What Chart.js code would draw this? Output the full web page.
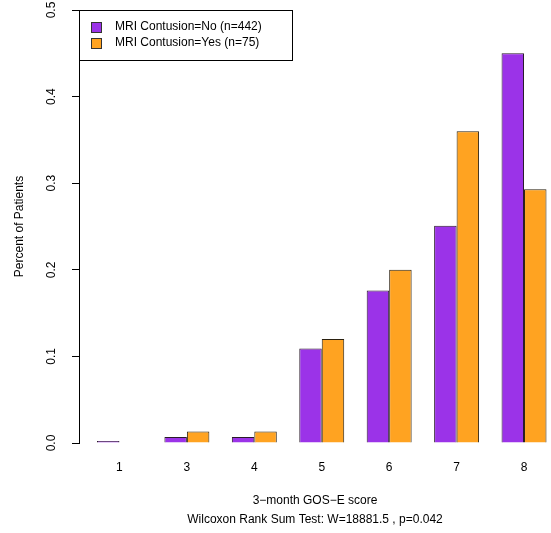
<!DOCTYPE html>
<html>
<head>
<meta charset="utf-8">
<script src="https://cdn.jsdelivr.net/npm/chart.js@4"></script>
<style>
  html, body { margin: 0; padding: 0; background: #fff; overflow: hidden; }
  #wrap { width: 551px; height: 533px; }
</style>
</head>
<body>
<div id="wrap"><canvas id="gosChart" width="551" height="533"></canvas></div>
<script>
// 3-month GOS-E score by MRI contusion
var scores = ['1', '3', '4', '5', '6', '7', '8'];
var noLabel = 'MRI Contusion=No (n=442)';
var yesLabel = 'MRI Contusion=Yes (n=75)';
var noValues = [0.0023, 0.0068, 0.0068, 0.109, 0.176, 0.251, 0.450];
var yesValues = [0, 0.0133, 0.0133, 0.120, 0.200, 0.360, 0.293];
var yTicks = [0, 0.1, 0.2, 0.3, 0.4, 0.5];
var xTitle = ['3\u2212month GOS\u2212E score', 'Wilcoxon Rank Sum Test: W=18881.5 , p=0.042'];
var yTitle = 'Percent of Patients';

var FONT = '"Liberation Sans", Arial, Helvetica, sans-serif';
Chart.defaults.font.family = FONT;
Chart.defaults.font.size = 12;
Chart.defaults.color = '#000';

// R barplot style: groups of 2 bars + 1 space -> group centres at 2, 5, 8, ...
var groupPos = function (i) { return 3 * i + 2; };
var toPoints = function (vals) {
    return vals.map(function (v, i) { return { x: groupPos(i), y: v }; });
};

// legend box like R's legend()
var boxLegend = {
    id: 'boxLegend',
    afterDraw: function (chart) {
        var ctx = chart.ctx;
        var a = chart.chartArea;
        var x0 = a.left, y0 = a.top, w = 213, h = 50;
        ctx.save();
        ctx.strokeStyle = '#000';
        ctx.lineWidth = 1;
        ctx.strokeRect(x0 + 0.5, y0 + 0.5, w, h);
        ctx.font = '12px ' + FONT;
        ctx.textBaseline = 'middle';
        chart.data.datasets.forEach(function (ds, i) {
            var cy = y0 + 17 + i * 16;
            ctx.fillStyle = ds.backgroundColor;
            ctx.fillRect(x0 + 12, cy - 5, 10, 10);
            ctx.strokeStyle = '#333';
            ctx.strokeRect(x0 + 12.5, cy - 4.5, 10, 10);
            ctx.fillStyle = '#000';
            ctx.fillText(ds.label, x0 + 36, cy);
        });
        ctx.restore();
    }
};

new Chart(document.getElementById('gosChart'), {
    type: 'bar',
    data: {
        datasets: [{
            label: noLabel,
            data: toPoints(noValues),
            backgroundColor: '#9b33e8',
            borderColor: '#2a1a2a',
            borderWidth: 1
        }, {
            label: yesLabel,
            data: toPoints(yesValues),
            backgroundColor: '#ffa321',
            borderColor: '#2a2010',
            borderWidth: 1
        }]
    },
    options: {
        responsive: false,
        animation: false,
        categoryPercentage: 2 / 3,
        barPercentage: 1,
        layout: { padding: { top: 10, right: 0, left: 0, bottom: 0 } },
        plugins: {
            legend: { display: false },
            tooltip: { enabled: false }
        },
        scales: {
            x: {
                type: 'linear',
                offset: false,
                min: 0.2,
                max: 21.2,
                grid: { display: false },
                border: { display: false },
                afterBuildTicks: function (scale) {
                    scale.ticks = scores.map(function (s, i) { return { value: groupPos(i) }; });
                },
                afterFit: function (scale) {
                    scale.height = 90;
                    scale.paddingLeft = 0;
                    scale.paddingRight = 0;
                },
                ticks: {
                    padding: 9,
                    maxRotation: 0,
                    autoSkip: false,
                    callback: function (value, index) { return scores[index]; }
                },
                title: {
                    display: true,
                    text: xTitle,
                    padding: { top: 4, bottom: 4 },
                    font: { size: 12, lineHeight: 1.6 }
                }
            },
            y: {
                min: 0,
                max: 0.5,
                afterBuildTicks: function (scale) {
                    scale.ticks = yTicks.map(function (v) { return { value: v }; });
                },
                afterFit: function (scale) {
                    scale.width = 79;
                    scale.paddingTop = 0;
                    scale.paddingBottom = 0;
                },
                grid: {
                    drawOnChartArea: false,
                    drawTicks: true,
                    tickLength: 7,
                    color: '#000'
                },
                border: { display: true, color: '#000', width: 1 },
                ticks: {
                    minRotation: 90,
                    maxRotation: 90,
                    crossAlign: 'center',
                    padding: 12,
                    callback: function (v) { return v.toFixed(1); }
                },
                title: {
                    display: true,
                    text: yTitle,
                    padding: { top: 12, bottom: 4 },
                    font: { size: 12 }
                }
            }
        }
    },
    plugins: [boxLegend]
});
</script>
</body>
</html>
